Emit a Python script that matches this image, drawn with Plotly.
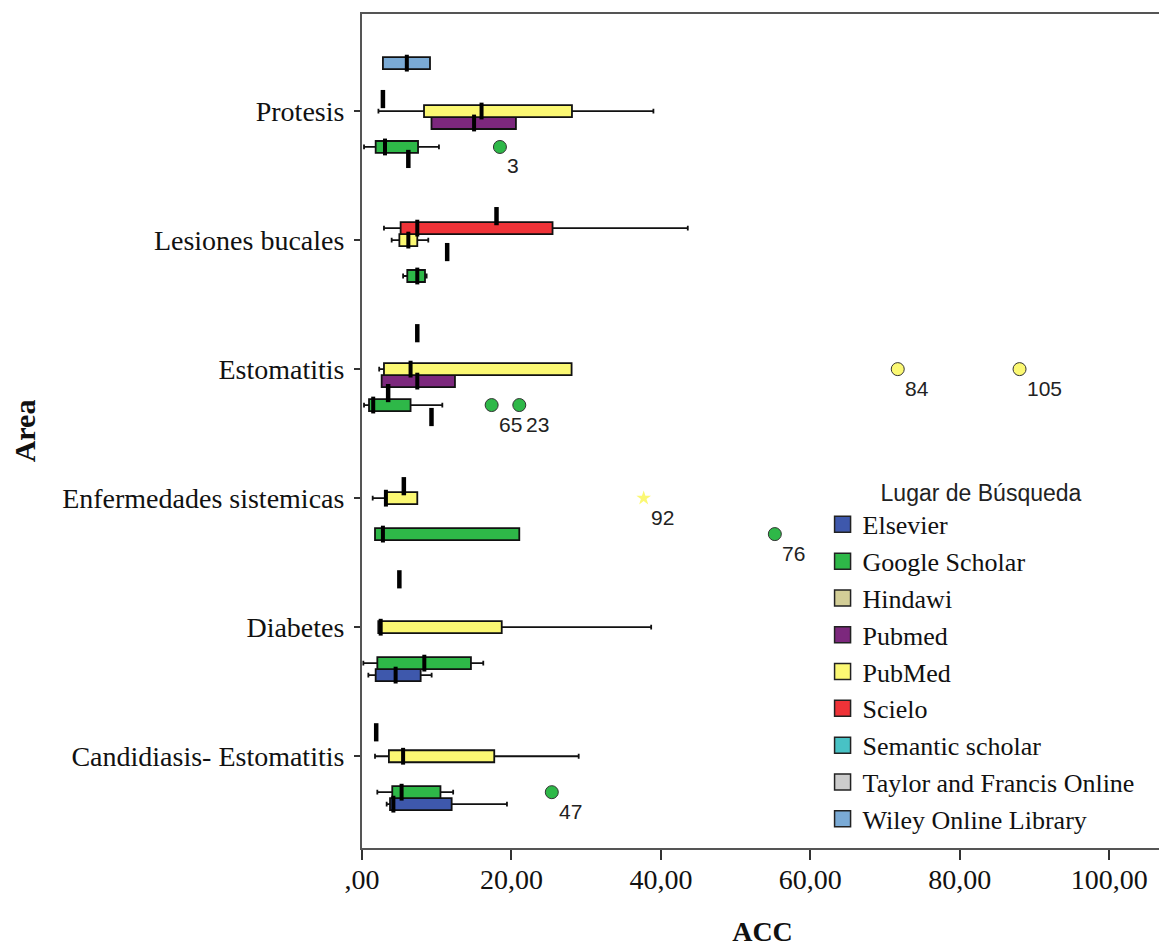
import plotly.graph_objects as go

# ---------------- data ----------------
areas = ["Candidiasis- Estomatitis", "Diabetes", "Enfermedades sistemicas",
         "Estomatitis", "Lesiones bucales", "Protesis"]
groups = ["Elsevier", "Google Scholar", "Hindawi", "Pubmed", "PubMed", "Scielo",
          "Semantic scholar", "Taylor and Francis Online", "Wiley Online Library"]
group_colors = ["#3E58AC", "#2EB848", "#D3CE97", "#7C287D", "#FBF873", "#EF3338",
                "#48C2C5", "#CCCCCC", "#7AAAD5"]

# boxes with several cases (five-number summaries)
box_area  = ["Protesis", "Protesis", "Protesis", "Protesis",
             "Lesiones bucales", "Lesiones bucales", "Lesiones bucales",
             "Estomatitis", "Estomatitis", "Estomatitis",
             "Enfermedades sistemicas", "Enfermedades sistemicas",
             "Diabetes", "Diabetes", "Diabetes",
             "Candidiasis- Estomatitis", "Candidiasis- Estomatitis", "Candidiasis- Estomatitis"]
box_group = ["Wiley Online Library", "PubMed", "Pubmed", "Google Scholar",
             "Scielo", "PubMed", "Google Scholar",
             "PubMed", "Pubmed", "Google Scholar",
             "PubMed", "Google Scholar",
             "PubMed", "Google Scholar", "Elsevier",
             "PubMed", "Google Scholar", "Elsevier"]
box_min = [2.8, 2.2, 9.3, 0.27, 2.94, 3.97, 5.5, 2.3, 2.63, 0.27, 1.43, 1.74, 2.18, 0.18, 0.85, 1.74, 2.05, 3.3]
box_q1  = [2.8, 8.3, 9.3, 1.83, 5.17, 5.0, 6.06, 2.94, 2.63, 0.94, 3.08, 1.74, 2.18, 2.05, 1.83, 3.6, 4.05, 3.75]
box_med = [6.0, 16.0, 15.0, 3.08, 7.4, 6.2, 7.4, 6.5, 7.4, 1.5, 3.2, 2.8, 2.5, 8.34, 4.5, 5.5, 5.3, 4.2]
box_q3  = [9.1, 28.1, 20.6, 7.5, 25.5, 7.4, 8.43, 28.05, 12.44, 6.5, 7.4, 21.05, 18.7, 14.58, 7.85, 17.7, 10.5, 12.0]
box_max = [9.1, 39.0, 20.6, 10.3, 43.6, 8.87, 8.65, 28.05, 12.44, 10.75, 7.4, 21.05, 38.7, 16.23, 9.32, 29.0, 12.2, 19.4]

# groups with a single case (drawn as a median mark only)
single_area  = ["Protesis", "Protesis", "Lesiones bucales", "Lesiones bucales",
                "Estomatitis", "Estomatitis", "Estomatitis",
                "Enfermedades sistemicas", "Diabetes", "Candidiasis- Estomatitis"]
single_group = ["Scielo", "Elsevier", "Semantic scholar", "Pubmed",
                "Taylor and Francis Online", "Hindawi", "Elsevier",
                "Scielo", "Wiley Online Library", "Semantic scholar"]
single_value = [2.8, 6.2, 18.0, 11.4, 7.4, 3.5, 9.3, 5.6, 5.0, 1.9]

# outliers (circle) and extremes (star) with case numbers
out_area  = ["Protesis", "Estomatitis", "Estomatitis", "Estomatitis", "Estomatitis",
             "Enfermedades sistemicas", "Enfermedades sistemicas", "Candidiasis- Estomatitis"]
out_group = ["Google Scholar", "PubMed", "PubMed", "Google Scholar", "Google Scholar",
             "PubMed", "Google Scholar", "Google Scholar"]
out_value = [18.46, 71.7, 88.0, 17.35, 21.05, 37.7, 55.25, 25.4]
out_label = ["3", "84", "105", "65", "23", "92", "76", "47"]
out_extreme = [False, False, False, False, False, True, False, False]

x_tickvals = [0, 20, 40, 60, 80, 100]
x_ticktext = [",00", "20,00", "40,00", "60,00", "80,00", "100,00"]

# ---------------- layout helpers ----------------
SLOT = 0.0928  # vertical distance between groups inside a cluster (category units)


def ypos(area, group):
    return areas.index(area) + (groups.index(group) - 4) * SLOT


SERIF = "Liberation Serif"
SANS = "Liberation Sans"

fig = go.Figure()

# boxes, one trace per group
for gi, g in enumerate(groups):
    idx = [i for i, bg in enumerate(box_group) if bg == g]
    if not idx:
        continue
    fig.add_trace(go.Box(
        orientation="h",
        y=[ypos(box_area[i], g) for i in idx],
        q1=[box_q1[i] for i in idx],
        median=[box_med[i] for i in idx],
        q3=[box_q3[i] for i in idx],
        lowerfence=[box_min[i] for i in idx],
        upperfence=[box_max[i] for i in idx],
        fillcolor=group_colors[gi],
        line=dict(color="#111111", width=1.8),
        width=SLOT,
        whiskerwidth=0.4,
        showlegend=False,
        hoverinfo="skip",
    ))

# thick median marks
fig.add_trace(go.Scatter(
    x=box_med,
    y=[ypos(a, g) for a, g in zip(box_area, box_group)],
    mode="markers",
    marker=dict(symbol="line-ns", size=12, line=dict(color="black", width=4)),
    showlegend=False, hoverinfo="skip",
))

# single-case groups
fig.add_trace(go.Scatter(
    x=single_value,
    y=[ypos(a, g) for a, g in zip(single_area, single_group)],
    mode="markers",
    marker=dict(symbol="line-ns", size=13, line=dict(color="black", width=4.5)),
    showlegend=False, hoverinfo="skip",
))

# outliers
for extreme in (False, True):
    idx = [i for i in range(len(out_value)) if out_extreme[i] == extreme]
    fig.add_trace(go.Scatter(
        x=[out_value[i] for i in idx],
        y=[ypos(out_area[i], out_group[i]) for i in idx],
        mode="markers",
        marker=dict(
            symbol="star" if extreme else "circle",
            size=11 if extreme else 13,
            color=[group_colors[groups.index(out_group[i])] for i in idx],
            line=dict(color="#333", width=0 if extreme else 1),
        ),
        showlegend=False, hoverinfo="skip",
    ))

# case-number labels of the outliers
for v, a, g, lab in zip(out_value, out_area, out_group, out_label):
    fig.add_annotation(
        x=v, y=ypos(a, g), text=lab, showarrow=False,
        xanchor="left", yanchor="middle", xshift=5, yshift=-19,
        font=dict(family=SANS, size=21, color="#222"),
    )

# legend entries
for gi, g in enumerate(groups):
    fig.add_trace(go.Scatter(
        x=[None], y=[None], mode="markers", name=g, legendgroup=g,
        marker=dict(symbol="square", size=16, color=group_colors[gi],
                    line=dict(color="#222", width=1.5)),
    ))

fig.update_layout(
    width=1167, height=946,
    margin=dict(l=354, r=12, t=4, b=106),
    paper_bgcolor="white", plot_bgcolor="white",
    font=dict(family=SERIF, color="black"),
    showlegend=True,
    legend=dict(
        x=0.575, y=0.452, xanchor="left", yanchor="top",
        bgcolor="rgba(0,0,0,0)",
        font=dict(family=SERIF, size=26, color="#111"),
        title=dict(text="Lugar de Búsqueda", side="top center",
                   font=dict(family=SANS, size=23, color="#222")),
        tracegroupgap=0,
        itemsizing="trace",
    ),
)

fig.update_xaxes(
    range=[0, 107.2], tickvals=x_tickvals, ticktext=x_ticktext,
    showgrid=False, zeroline=False,
    showline=True, mirror=True, linecolor="#555", linewidth=2,
    ticks="outside", ticklen=10, tickwidth=1.5, tickcolor="#333",
    tickfont=dict(family=SERIF, size=28, color="#111"),
    ticklabelstandoff=-5,
    title=dict(text="<b>ACC</b>", font=dict(family=SERIF, size=28, color="#111"), standoff=28),
)
fig.update_yaxes(
    range=[-0.711, 5.752], tickvals=list(range(len(areas))), ticktext=areas,
    showgrid=False, zeroline=False,
    showline=True, mirror=True, linecolor="#555", linewidth=2,
    ticks="outside", ticklen=6, tickwidth=1.5, tickcolor="#333",
    tickfont=dict(family=SERIF, size=28, color="#111"),
    ticklabelstandoff=4,
    title=dict(text="<b>Area</b>", font=dict(family=SERIF, size=30, color="#111"), standoff=21),
)

fig.write_html("out.html")
